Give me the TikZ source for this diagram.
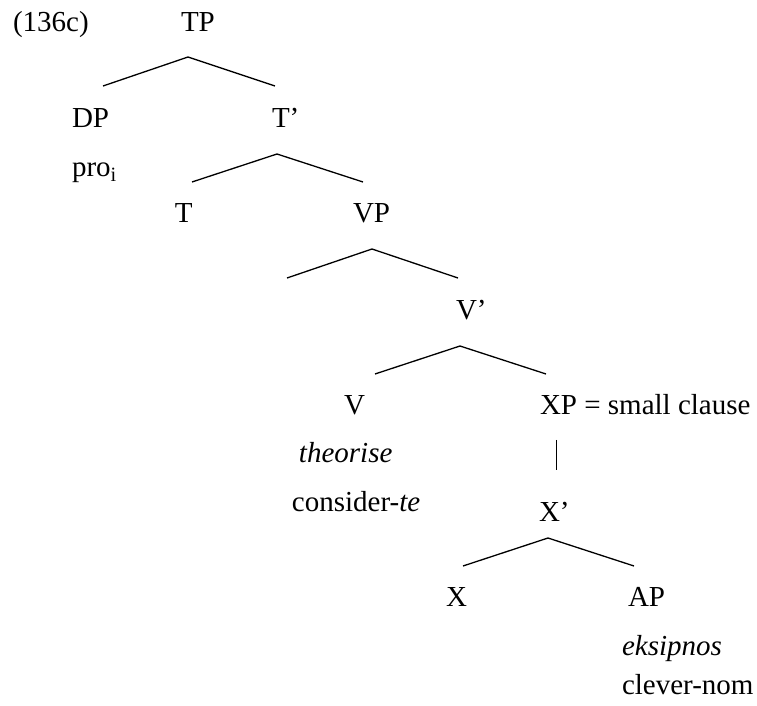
\documentclass[tikz,border=0pt]{standalone}
\usepackage{fontspec}
\setmainfont{Liberation Serif}
\begin{document}
\begin{tikzpicture}[x=0.5pt,y=-0.5pt,
  lab/.style={anchor=base west,inner sep=0pt,outer sep=0pt,font=\fontsize{14.5}{17}\selectfont},
  branch/.style={line width=0.65pt},
  bar/.style={line width=0.5pt}]
\useasboundingbox (0,0) rectangle (757,706);
% labels
\node[lab] (ex) at (13,32) {(136c)};
\node[lab] (tp) at (181,32) {TP};
\node[lab] (dp) at (72,128) {DP};
\node[lab] (tbar) at (272,128) {T’};
\node[lab] (pro) at (72,177) {pro\textsubscript{i}};
\node[lab] (t) at (175,223) {T};
\node[lab] (vp) at (353,223) {VP};
\node[lab] (vbar) at (456,320) {V’};
\node[lab] (v) at (344,415) {V};
\node[lab] (xp) at (540,415) {XP = small clause};
\node[lab] (theo) at (299,463) {\textit{theorise}};
\node[lab] (cons) at (292,512) {consider-\textit{te}};
\node[lab] (xbar) at (539,522) {X’};
\node[lab] (x) at (446,607) {X};
\node[lab] (ap) at (628,607) {AP};
\node[lab] (eks) at (622,655) {\textit{eksipnos}};
\node[lab] (clev) at (622,695) {clever-nom};
% branch points
\coordinate (tpA) at (188,57);  \coordinate (tpL) at (103,86);  \coordinate (tpR) at (275,86);
\coordinate (tbA) at (277,154); \coordinate (tbL) at (192,182); \coordinate (tbR) at (363,182);
\coordinate (vpA) at (372,249); \coordinate (vpL) at (287,278); \coordinate (vpR) at (458,278);
\coordinate (vbA) at (460,346); \coordinate (vbL) at (375,374); \coordinate (vbR) at (546,374);
\coordinate (xbA) at (548,538); \coordinate (xbL) at (463,566); \coordinate (xbR) at (634,566);
\coordinate (barT) at (556,440); \coordinate (barB) at (556,470);
\draw[branch] (tpL) -- (tpA) -- (tpR);
\draw[branch] (tbL) -- (tbA) -- (tbR);
\draw[branch] (vpL) -- (vpA) -- (vpR);
\draw[branch] (vbL) -- (vbA) -- (vbR);
\draw[branch] (xbL) -- (xbA) -- (xbR);
\draw[bar] (barT) -- (barB);
\end{tikzpicture}
\end{document}
